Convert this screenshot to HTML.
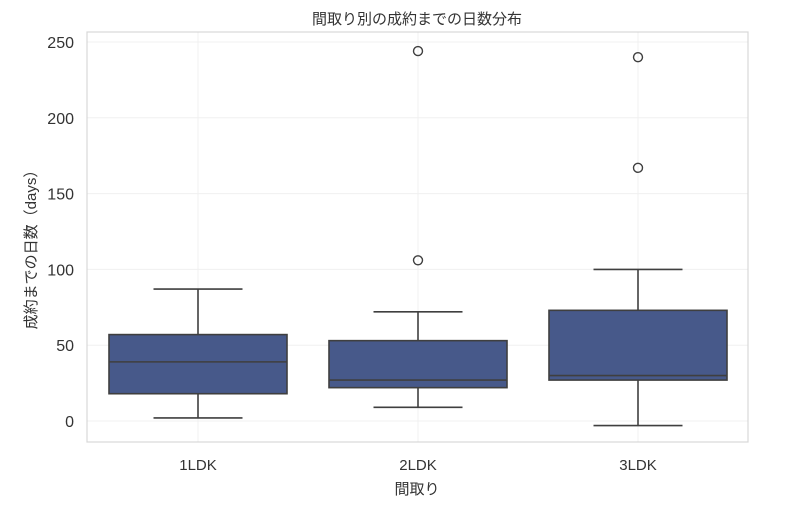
<!DOCTYPE html>
<html><head><meta charset="utf-8">
<style>
body{margin:0;background:#fff;}
svg text{font-family:"Liberation Sans","Noto Sans CJK JP",sans-serif;fill:#333;}
</style></head>
<body>
<svg id="chart" width="800" height="505" xmlns="http://www.w3.org/2000/svg">
<text x="417" y="24" font-size="15" text-anchor="middle">間取り別の成約までの日数分布</text>
<g id="grid"></g>
<rect x="87" y="32" width="661" height="410" fill="none" stroke="#d8d8d8" stroke-width="1.2"/>
<g id="marks"></g>
<g id="ticks"></g>
<text x="417" y="494" font-size="15" text-anchor="middle">間取り</text>
<text transform="translate(36,246) rotate(-90)" font-size="15" text-anchor="middle">成約までの日数（days）</text>
</svg>
<script>
const categories=["1LDK","2LDK","3LDK"];
const whiskerLow=[2,9,-3];
const q1=[18,22,27];
const median=[39,27,30];
const q3=[57,53,73];
const whiskerHigh=[87,72,100];
const outliers=[[],[106,244],[167,240]];
const yTicks=[0,50,100,150,200,250];

const NS="http://www.w3.org/2000/svg";
const y=v=>421-v*(379/250);
const xc=i=>198+i*220;
const bw=178, cw=89;
function mk(tag,attrs,parent){const e=document.createElementNS(NS,tag);for(const k in attrs)e.setAttribute(k,attrs[k]);parent.appendChild(e);return e;}
const grid=document.getElementById('grid'),marks=document.getElementById('marks'),ticks=document.getElementById('ticks');
yTicks.forEach(t=>{
  const l=mk('line',{x1:87,x2:748,y1:y(t),y2:y(t),stroke:'#f0f0f0','stroke-width':1},grid);
  
  
  const tx=mk('text',{x:74,y:y(t)+6,'font-size':16,'text-anchor':'end'},ticks);
  tx.textContent=t;
  
  
});
categories.forEach((c,i)=>{
  const l=mk('line',{x1:xc(i),x2:xc(i),y1:32,y2:442,stroke:'#f0f0f0','stroke-width':1},grid);
  
  
  const tx=mk('text',{x:xc(i),y:470,'font-size':15,'text-anchor':'middle'},ticks);
  tx.textContent=c;
  
  
  const g=mk('g',{},marks);
  
  
  const s={stroke:'#3f3f3f','stroke-width':1.6};
  mk('line',Object.assign({x1:xc(i),x2:xc(i),y1:y(whiskerHigh[i]),y2:y(q3[i])},s),g);
  mk('line',Object.assign({x1:xc(i),x2:xc(i),y1:y(q1[i]),y2:y(whiskerLow[i])},s),g);
  mk('line',Object.assign({x1:xc(i)-cw/2,x2:xc(i)+cw/2,y1:y(whiskerHigh[i]),y2:y(whiskerHigh[i])},s),g);
  mk('line',Object.assign({x1:xc(i)-cw/2,x2:xc(i)+cw/2,y1:y(whiskerLow[i]),y2:y(whiskerLow[i])},s),g);
  mk('rect',Object.assign({x:xc(i)-bw/2,y:y(q3[i]),width:bw,height:y(q1[i])-y(q3[i]),fill:'#47598a'},s),g);
  mk('line',Object.assign({x1:xc(i)-bw/2,x2:xc(i)+bw/2,y1:y(median[i]),y2:y(median[i])},s),g);
  outliers[i].forEach(v=>{
    const o=mk('circle',{cx:xc(i),cy:y(v),r:4.5,fill:'none',stroke:'#3f3f3f','stroke-width':1.4},g);
    
    
  });
});
</script>
</body></html>
